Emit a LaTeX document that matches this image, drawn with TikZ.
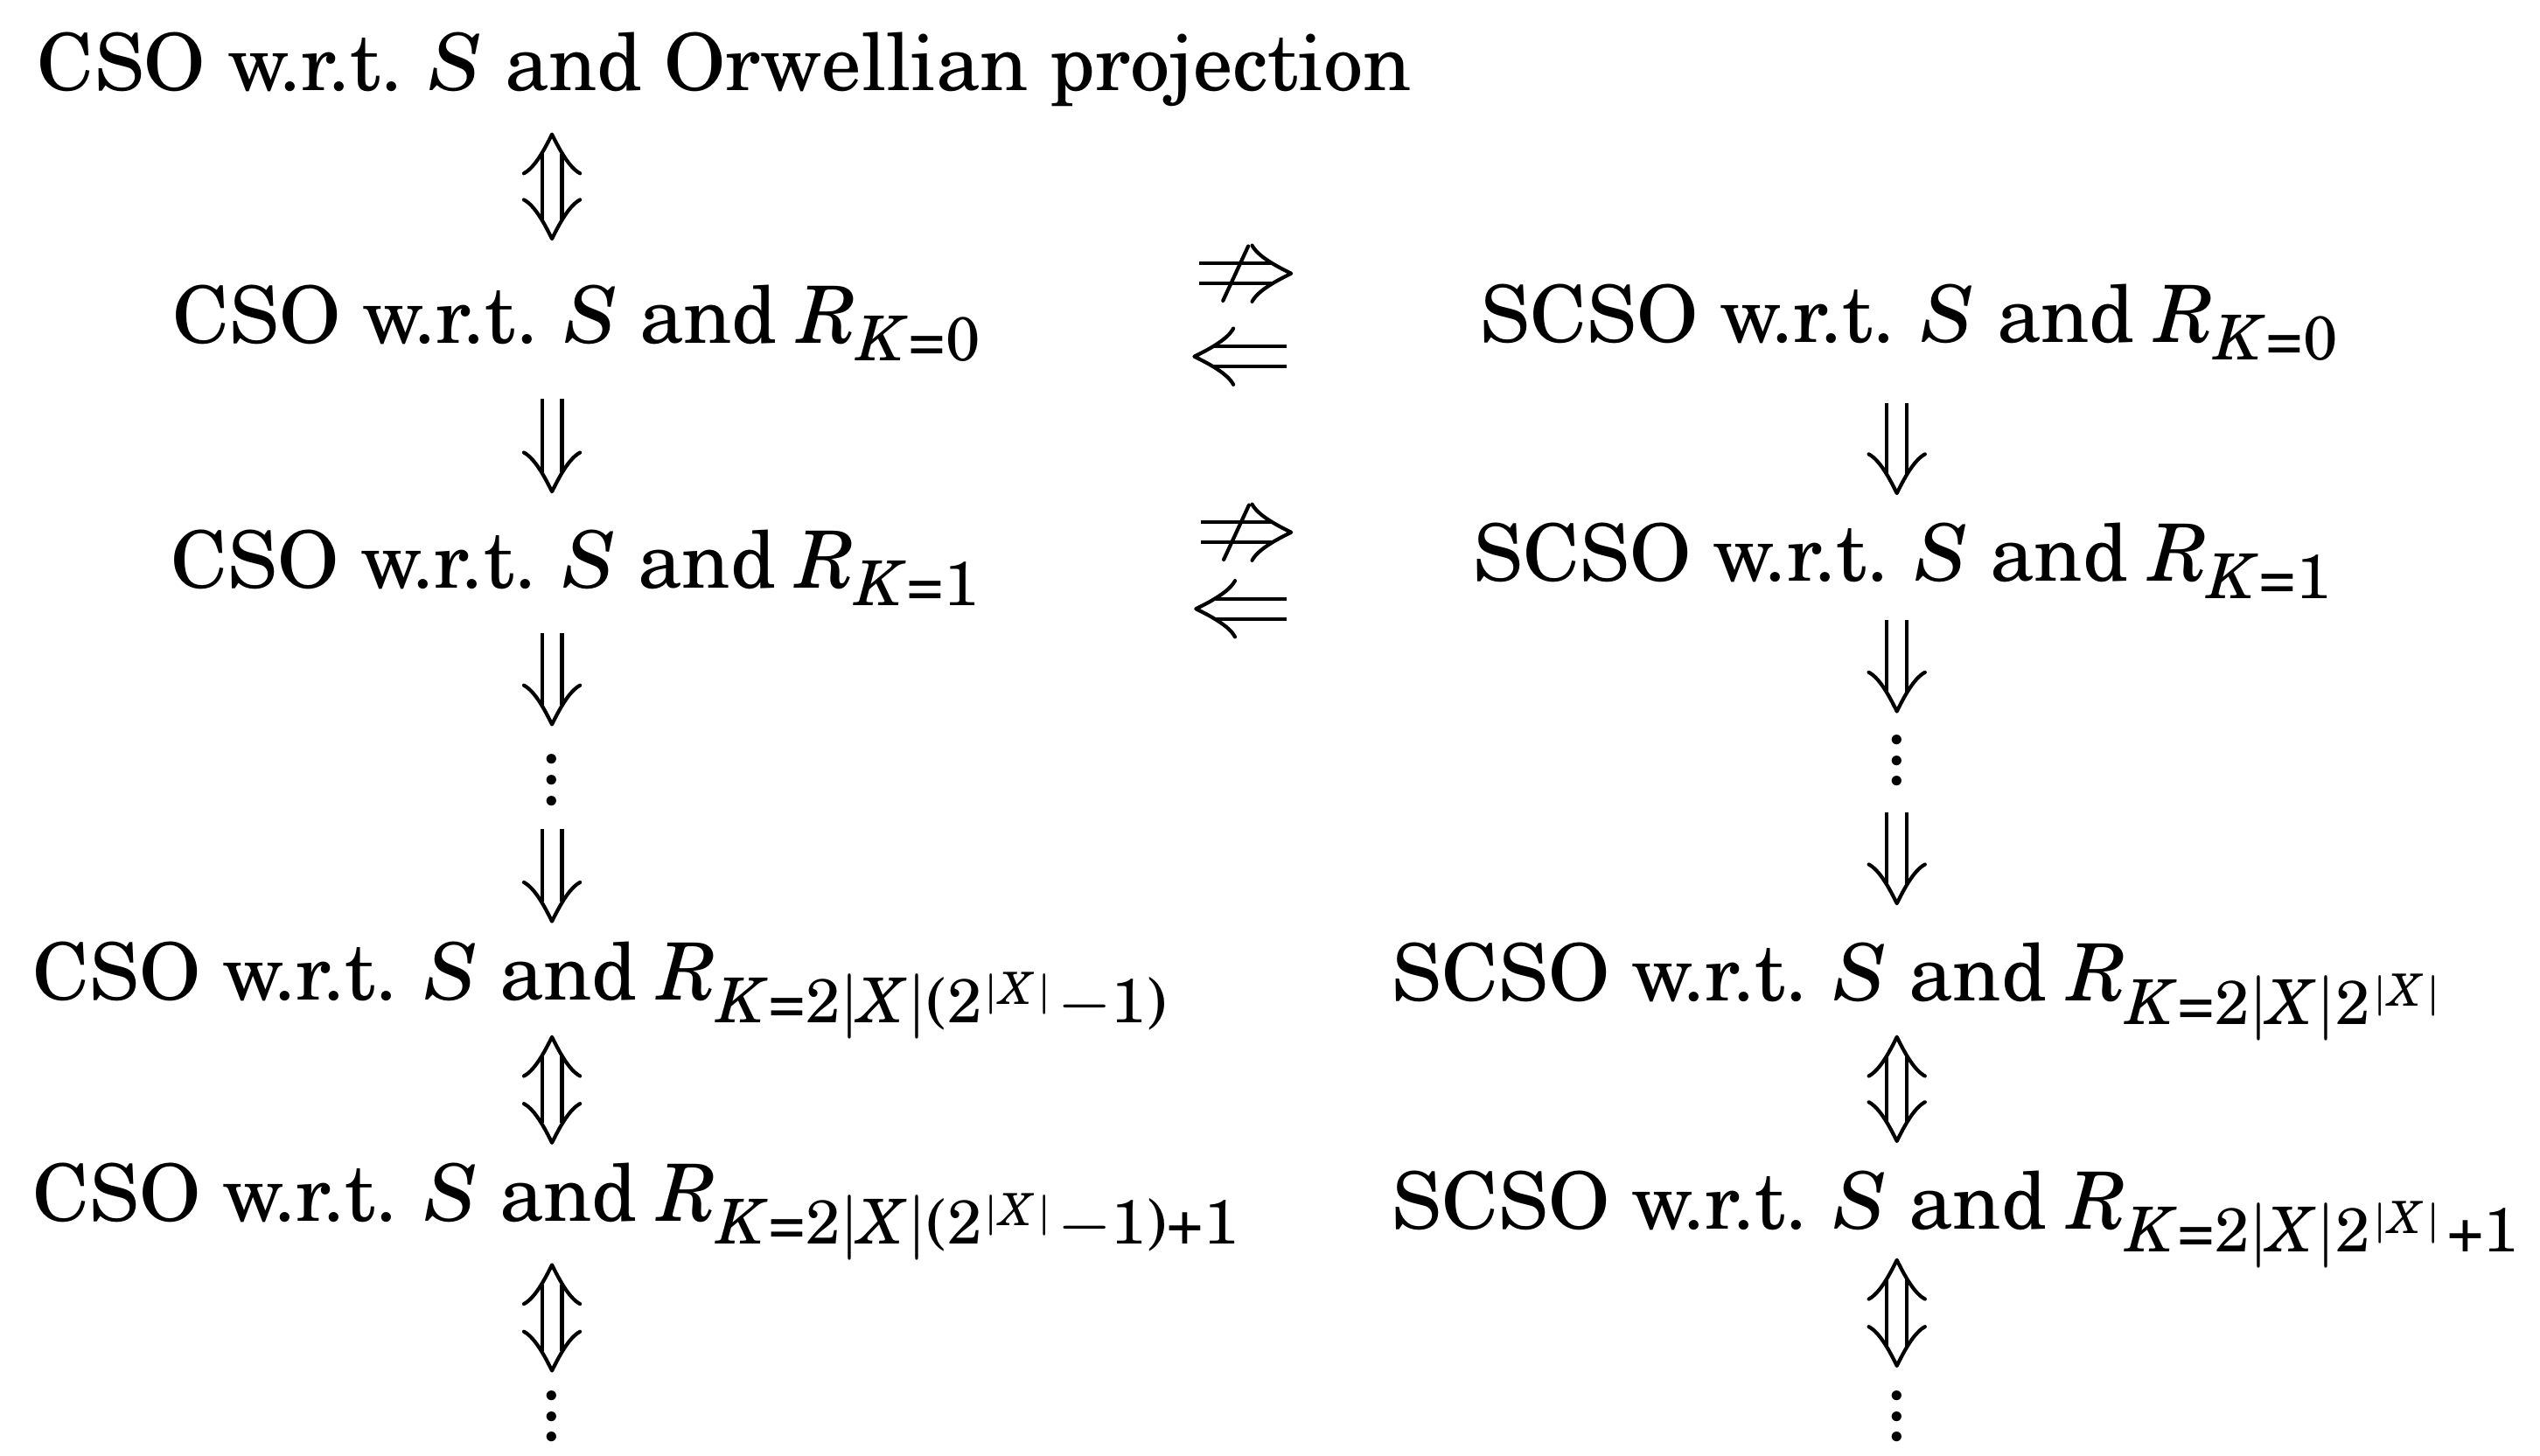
\documentclass[tikz,border=0pt]{standalone}
\IfFileExists{tgschola.sty}{\usepackage[T1]{fontenc}\usepackage{tgschola}
  \DeclareSymbolFont{letters}{T1}{qcs}{m}{it}
  \DeclareSymbolFont{operators}{T1}{qcs}{m}{n}}{%
  \IfFileExists{newcent.sty}{\usepackage[T1]{fontenc}\usepackage{newcent}
  \DeclareSymbolFont{letters}{T1}{pnc}{m}{it}
  \DeclareSymbolFont{operators}{T1}{pnc}{m}{n}}{}}
\DeclareMathSizes{9.7}{9.7}{7.6}{5.45}
\usetikzlibrary{arrows.meta,calc}
\pgfdeclarearrow{
  name = CMHead,
  parameters = {\the\pgfarrowlength,\the\pgfarrowwidth,\the\pgfarrowlinewidth},
  setup code = {
    \pgfarrowssettipend{0pt}
    \pgfarrowssetlineend{-0.5\pgfarrowlength}
    \pgfarrowssetbackend{-\pgfarrowlength}
    \pgfarrowshullpoint{0pt}{0pt}
    \pgfarrowsupperhullpoint{-\pgfarrowlength}{0.5\pgfarrowwidth}
    \pgfarrowssavethe\pgfarrowlength
    \pgfarrowssavethe\pgfarrowwidth
    \pgfarrowssavethe\pgfarrowlinewidth
  },
  drawing code = {
    \pgfsetlinewidth{\pgfarrowlinewidth}
    \pgfsetroundcap
    \pgfsetroundjoin
    \pgfpathmoveto{\pgfqpoint{-\pgfarrowlength}{0.5\pgfarrowwidth}}
    \pgfpathcurveto{\pgfqpoint{-0.85\pgfarrowlength}{0.3\pgfarrowwidth}}{\pgfqpoint{-0.35\pgfarrowlength}{0.12\pgfarrowwidth}}{\pgfqpoint{0pt}{0pt}}
    \pgfpathcurveto{\pgfqpoint{-0.35\pgfarrowlength}{-0.12\pgfarrowwidth}}{\pgfqpoint{-0.85\pgfarrowlength}{-0.3\pgfarrowwidth}}{\pgfqpoint{-\pgfarrowlength}{-0.5\pgfarrowwidth}}
    \pgfusepathqstroke
  },
  defaults = {length=4.8pt, width=6.9pt, line width=0.45pt}
}
\newcommand\mydots{\vbox{\baselineskip=2.54pt\lineskiplimit=-5pt\lineskip=0pt\hbox{.}\hbox{.}\hbox{.}}}
\tikzset{
  every node/.style={font=\fontsize{9.7}{11.6}\selectfont},
  lbl/.style={anchor=base west, inner sep=0pt, text height=7.5pt, text depth=2.5pt},
  vd/.style={inner sep=0pt, text height=6.1pt, text depth=0pt},
  imp/.style={line width=0.45pt, double, double distance=2pt, -{CMHead}},
  iff/.style={line width=0.45pt, double, double distance=2pt, {CMHead}-{CMHead}},
  slash/.style={line width=0.45pt, line cap=round}
}
\begin{document}
\begin{tikzpicture}[x=0.2pt,y=-0.2pt]
\useasboundingbox (0,0) rectangle (1560,893.9);
% text nodes
\node[lbl] (t1) at (22,55.5) {CSO w.r.t. $S$ and Orwellian projection};
\node[lbl] (l2) at (105,211) {CSO w.r.t. $S$ and $R_{K=0}$};
\node[lbl] (r2) at (908,210.5) {SCSO w.r.t. $S$ and $R_{K=0}$};
\node[lbl] (l3) at (104,361.5) {CSO w.r.t. $S$ and $R_{K=1}$};
\node[lbl] (r3) at (904,357) {SCSO w.r.t. $S$ and $R_{K=1}$};
\node[lbl] (l5) at (19,614) {CSO w.r.t. $S$ and $R_{K=2|X|(2^{|X|}-1)}$};
\node[lbl] (r5) at (854,615) {SCSO w.r.t. $S$ and $R_{K=2|X|2^{|X|}}$};
\node[lbl] (l6) at (19,750) {CSO w.r.t. $S$ and $R_{K=2|X|(2^{|X|}-1)+1}$};
\node[lbl] (r6) at (854,755) {SCSO w.r.t. $S$ and $R_{K=2|X|2^{|X|}+1}$};
% columns
\coordinate (cL) at (339,0);
\coordinate (cR) at (1165,0);
% vertical dots
\node[vd] (vl1) at (339,479) {\mydots};
\node[vd] (vr1) at (1165,467) {\mydots};
\node[vd] (vl2) at (339,870) {\mydots};
\node[vd] (vr2) at (1165,870) {\mydots};
% vertical arrows, left column
\draw[iff, shorten <=2.7pt, shorten >=5.16pt] (t1.south -| cL) -- (l2.north -| cL);
\draw[imp, shorten <=4.04pt, shorten >=4.2pt] (l2.south -| cL) -- (l3.north -| cL);
\draw[imp, shorten <=2.8pt, shorten >=3.55pt] (l3.south -| cL) -- (vl1.north -| cL);
\draw[imp, shorten <=2.75pt, shorten >=1.9pt] (vl1.south -| cL) -- (l5.north -| cL);
\draw[iff, shorten <=1.9pt, shorten >=1.9pt] (l5.south -| cL) -- (l6.north -| cL);
\draw[iff, shorten <=2.7pt, shorten >=2.35pt] (l6.south -| cL) -- (vl2.north -| cL);
% vertical arrows, right column
\draw[imp, shorten <=4.7pt, shorten >=3.1pt] (r2.south -| cR) -- (r3.north -| cR);
\draw[imp, shorten <=2.1pt, shorten >=2.75pt] (r3.south -| cR) -- (vr1.north -| cR);
\draw[imp, shorten <=3.15pt, shorten >=4.3pt] (vr1.south -| cR) -- (r5.north -| cR);
\draw[iff, shorten <=1.7pt, shorten >=3.1pt] (r5.south -| cR) -- (r6.north -| cR);
\draw[iff, shorten <=1.1pt, shorten >=2.95pt] (r6.south -| cR) -- (vr2.north -| cR);
% horizontal arrows
\coordinate (a1) at ([yshift=6.1pt]l2.east);
\coordinate (b1) at ([yshift=-4.1pt]l2.east);
\coordinate (a2) at ([yshift=4.4pt]l3.east);
\coordinate (b2) at ([yshift=-5pt]l3.east);
\draw[imp, shorten <=26.2pt, shorten >=23pt] (a1) -- coordinate[pos=0.507] (s1) (a1 -| r2.west);
\draw[slash] ([shift={(1.55pt,3.35pt)}]s1) -- ([shift={(-1.55pt,-3.35pt)}]s1);
\draw[imp, shorten <=23.6pt, shorten >=25.6pt] (b1 -| r2.west) -- (b1);
\draw[imp, shorten <=26.6pt, shorten >=22.2pt] (a2) -- coordinate[pos=0.517] (s2) (a2 -| r3.west);
\draw[slash] ([shift={(1.55pt,3.35pt)}]s2) -- ([shift={(-1.55pt,-3.35pt)}]s2);
\draw[imp, shorten <=22.8pt, shorten >=26pt] (b2 -| r3.west) -- (b2);
\end{tikzpicture}
\end{document}
